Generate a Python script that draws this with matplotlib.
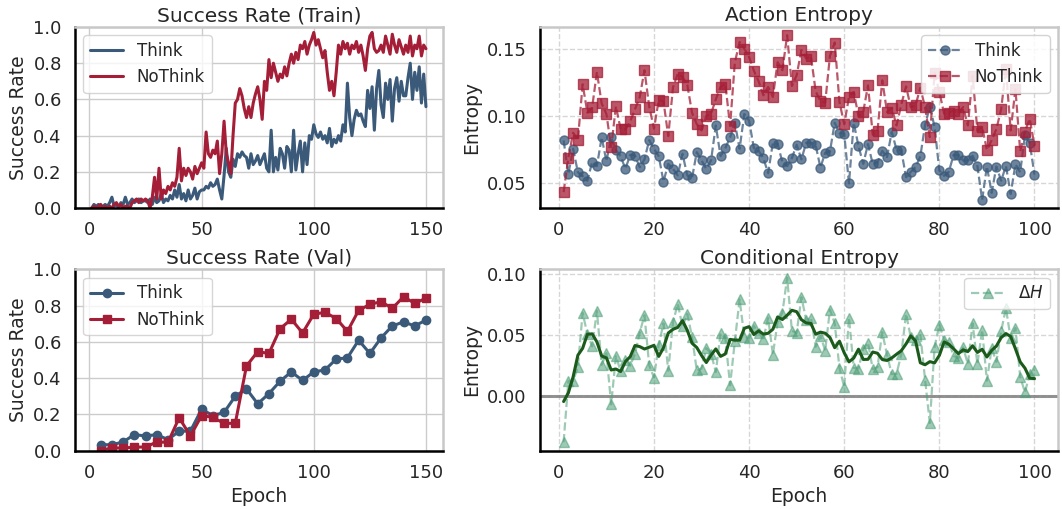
import matplotlib
matplotlib.use("Agg")
import matplotlib.pyplot as plt
import numpy as np
import pandas as pd
import seaborn as sns

# ---------------------------------------------------------------- data
train_epochs = np.arange(1, 151)
think_train = [
    0.00, 0.02, 0.01, 0.02, 0.00, 0.01, 0.02, 0.01, 0.03, 0.06,
    0.01, 0.02, 0.00, 0.03, 0.02, 0.06, 0.02, 0.03, 0.05, 0.03,
    0.04, 0.05, 0.03, 0.04, 0.04, 0.03, 0.05, 0.02, 0.06, 0.03,
    0.04, 0.08, 0.03, 0.05, 0.04, 0.07, 0.05, 0.10, 0.06, 0.13,
    0.05, 0.08, 0.04, 0.10, 0.05, 0.07, 0.11, 0.05, 0.09, 0.10,
    0.10, 0.12, 0.11, 0.14, 0.12, 0.13, 0.16, 0.10, 0.05, 0.18,
    0.33, 0.20, 0.17, 0.27, 0.23, 0.30, 0.28, 0.31, 0.29, 0.28,
    0.22, 0.30, 0.24, 0.26, 0.29, 0.24, 0.27, 0.30, 0.22, 0.20,
    0.43, 0.20, 0.28, 0.21, 0.33, 0.30, 0.22, 0.34, 0.32, 0.20,
    0.43, 0.21, 0.30, 0.37, 0.20, 0.36, 0.24, 0.40, 0.38, 0.46,
    0.41, 0.39, 0.42, 0.38, 0.40, 0.36, 0.44, 0.34, 0.38, 0.36,
    0.40, 0.37, 0.46, 0.42, 0.69, 0.50, 0.40, 0.49, 0.54, 0.51,
    0.52, 0.48, 0.45, 0.65, 0.55, 0.67, 0.43, 0.66, 0.76, 0.57,
    0.50, 0.69, 0.60, 0.71, 0.48, 0.66, 0.72, 0.59, 0.70, 0.62,
    0.62, 0.72, 0.80, 0.60, 0.75, 0.65, 0.78, 0.58, 0.74, 0.56,
]
nothink_train = [
    0.00, 0.01, 0.00, 0.01, 0.02, 0.00, 0.01, 0.00, 0.01, 0.00,
    0.02, 0.03, 0.01, 0.02, 0.00, 0.01, 0.01, 0.00, 0.03, 0.04,
    0.05, 0.03, 0.05, 0.04, 0.05, 0.04, 0.00, 0.06, 0.17, 0.05,
    0.22, 0.05, 0.10, 0.08, 0.12, 0.10, 0.14, 0.12, 0.17, 0.33,
    0.15, 0.22, 0.18, 0.22, 0.20, 0.16, 0.23, 0.19, 0.22, 0.25,
    0.22, 0.42, 0.30, 0.28, 0.32, 0.30, 0.37, 0.19, 0.30, 0.48,
    0.30, 0.25, 0.19, 0.40, 0.58, 0.60, 0.66, 0.62, 0.55, 0.50,
    0.56, 0.50, 0.58, 0.63, 0.67, 0.60, 0.49, 0.70, 0.65, 0.82,
    0.72, 0.80, 0.75, 0.70, 0.74, 0.72, 0.78, 0.73, 0.80, 0.85,
    0.80, 0.86, 0.82, 0.90, 0.88, 0.92, 0.85, 0.90, 0.93, 0.97,
    0.90, 0.93, 0.88, 0.83, 0.87, 0.75, 0.65, 0.70, 0.62, 0.75,
    0.90, 0.85, 0.92, 0.88, 0.91, 0.85, 0.90, 0.88, 0.92, 0.86,
    0.90, 0.84, 0.76, 0.88, 0.95, 0.97, 0.88, 0.86, 0.87, 0.90,
    0.86, 0.95, 0.90, 0.85, 0.96, 0.90, 0.86, 0.93, 0.89, 0.85,
    0.90, 0.86, 0.95, 0.84, 0.90, 0.88, 0.95, 0.84, 0.90, 0.88,
]

val_epochs = np.arange(5, 151, 5)
think_val = [0.032, 0.032, 0.047, 0.088, 0.080, 0.088, 0.060, 0.107, 0.107, 0.228,
             0.193, 0.210, 0.300, 0.340, 0.258, 0.314, 0.383, 0.434, 0.387, 0.434,
             0.445, 0.505, 0.512, 0.609, 0.536, 0.622, 0.688, 0.710, 0.688, 0.720]
nothink_val = [0.000, 0.015, 0.013, 0.019, 0.019, 0.047, 0.045, 0.181, 0.080, 0.193,
               0.183, 0.150, 0.150, 0.467, 0.546, 0.536, 0.673, 0.725, 0.649, 0.753,
               0.763, 0.729, 0.658, 0.774, 0.807, 0.822, 0.785, 0.849, 0.813, 0.841]

ent_epochs = np.arange(1, 101)
think_ent = [
    0.0819, 0.0570, 0.0757, 0.0583, 0.0554, 0.0519, 0.0658, 0.0628, 0.0841, 0.0665,
    0.0841, 0.0747, 0.0700, 0.0608, 0.0712, 0.0707, 0.0620, 0.0678, 0.0821, 0.0757,
    0.0702, 0.0514, 0.0645, 0.0608, 0.0559, 0.0720, 0.0559, 0.0539, 0.0732, 0.0670,
    0.0608, 0.0670, 0.0930, 0.0702, 0.0762, 0.0841, 0.0950, 0.0757, 0.1015, 0.0965,
    0.0762, 0.0742, 0.0688, 0.0576, 0.0802, 0.0792, 0.0658, 0.0628, 0.0688, 0.0787,
    0.0678, 0.0802, 0.0802, 0.0782, 0.0618, 0.0727, 0.0737, 0.0950, 0.0876, 0.0869,
    0.0500, 0.0950, 0.0777, 0.0645, 0.0792, 0.0643, 0.0655, 0.0742, 0.0695, 0.0883,
    0.0750, 0.0745, 0.0546, 0.0585, 0.0622, 0.0700, 0.0933, 0.1070, 0.0920, 0.0596,
    0.0556, 0.0587, 0.0712, 0.0710, 0.0670, 0.0670, 0.0705, 0.0630, 0.0378, 0.0625,
    0.0430, 0.0625, 0.0520, 0.0630, 0.0422, 0.0642, 0.0583, 0.0858, 0.0800, 0.0566,
]
nothink_ent = [
    0.0435, 0.0690, 0.0876, 0.0821, 0.1236, 0.1025, 0.1064, 0.1327, 0.1094, 0.1015,
    0.0769, 0.1072, 0.0901, 0.0901, 0.0960, 0.1050, 0.1139, 0.1340, 0.1070, 0.0906,
    0.1119, 0.1110, 0.0851, 0.1213, 0.1315, 0.1290, 0.1233, 0.1025, 0.0940, 0.0893,
    0.1000, 0.1017, 0.1124, 0.1216, 0.1240, 0.0926, 0.1397, 0.1550, 0.1500, 0.1439,
    0.1337, 0.1258, 0.1154, 0.1216, 0.1141, 0.1400, 0.1340, 0.1600, 0.1223, 0.1303,
    0.1489, 0.1427, 0.1444, 0.1184, 0.1110, 0.1099, 0.1446, 0.1546, 0.1104, 0.0940,
    0.1141, 0.1179, 0.1000, 0.1030, 0.1228, 0.0861, 0.0890, 0.1265, 0.1030, 0.1060,
    0.0930, 0.1085, 0.1220, 0.1065, 0.1080, 0.1210, 0.1065, 0.0844, 0.1320, 0.1180,
    0.1017, 0.1025, 0.1040, 0.1017, 0.1067, 0.0930, 0.1300, 0.0890, 0.0920, 0.0748,
    0.0820, 0.0903, 0.1052, 0.1350, 0.0893, 0.1200, 0.0738, 0.0885, 0.0980, 0.0780,
]

# ---------------------------------------------------------------- style
THINK = "#3b5a7a"
NOTHINK = "#a51e37"
GREEN = "#4f9f78"
DARKGREEN = "#1b5a1b"

sns.set_theme(style="whitegrid")
plt.rcParams.update({
    "font.family": ["DejaVu Sans"],
    "axes.titlesize": 14.5,
    "axes.labelsize": 13.5,
    "xtick.labelsize": 13,
    "ytick.labelsize": 13,
    "legend.fontsize": 12,
})

W, H = 1062, 509
fig, axs = plt.subplots(2, 2, figsize=(W / 100, H / 100), dpi=100,
                        gridspec_kw=dict(width_ratios=[367.7, 518]))
fig.subplots_adjust(left=75 / W, right=1058 / W, top=1 - 27 / H,
                    bottom=1 - 450.5 / H, wspace=0.22, hspace=0.339)


def style_spines(ax):
    for s in ("left", "bottom"):
        ax.spines[s].set_color("black")
        ax.spines[s].set_linewidth(1.8)
    for s in ("top", "right"):
        ax.spines[s].set_color("#c8c8c8")
        ax.spines[s].set_linewidth(1.8)


# --- success rate (train)
ax = axs[0, 0]
ax.plot(train_epochs, think_train, color=THINK, lw=2.2, label="Think")
ax.plot(train_epochs, nothink_train, color=NOTHINK, lw=2.2, label="NoThink")
ax.set_title("Success Rate (Train)", pad=4)
ax.set_ylabel("Success Rate")
ax.set_ylim(0, 1.0)
ax.set_xticks([0, 50, 100, 150])
ax.legend(loc="upper left")
style_spines(ax)
train_xlim = ax.get_xlim()

# --- success rate (val)
ax = axs[1, 0]
ax.plot(val_epochs, think_val, "-o", color=THINK, lw=2.2, ms=6, label="Think")
ax.plot(val_epochs, nothink_val, "-s", color=NOTHINK, lw=2.2, ms=6, label="NoThink")
ax.set_title("Success Rate (Val)", pad=4)
ax.set_ylabel("Success Rate")
ax.set_xlabel("Epoch")
ax.set_ylim(0, 1.0)
ax.set_xlim(train_xlim)
ax.set_xticks([0, 50, 100, 150])
ax.legend(loc="upper left")
style_spines(ax)

# --- action entropy
ax = axs[0, 1]
ax.plot(ent_epochs, think_ent, "--o", color=THINK, lw=1.6, ms=6.5, alpha=0.75, label="Think")
ax.plot(ent_epochs, nothink_ent, "--s", color=NOTHINK, lw=1.6, ms=6.5, alpha=0.75, label="NoThink")
ax.set_title("Action Entropy", pad=4)
ax.set_ylabel("Entropy")
ax.set_xticks([0, 20, 40, 60, 80, 100])
ax.grid(True, linestyle="--", alpha=0.8)
ax.legend(loc="upper right", framealpha=0.85)
style_spines(ax)

# --- conditional entropy (difference NoThink - Think)
delta = pd.Series(nothink_ent) - pd.Series(think_ent)
delta_smooth = delta.rolling(5, center=True, min_periods=1).mean()
ax = axs[1, 1]
ax.axhline(0, color="gray", lw=2.2, alpha=0.85, zorder=1)
ax.plot(ent_epochs, delta, "--^", color=GREEN, lw=1.6, ms=7, alpha=0.55, label=r"$\Delta H$")
ax.plot(ent_epochs, delta_smooth, color=DARKGREEN, lw=2.2)
ax.set_title("Conditional Entropy", pad=4)
ax.set_ylabel("Entropy")
ax.set_xlabel("Epoch")
ax.set_xticks([0, 20, 40, 60, 80, 100])
ax.set_yticks([0.0, 0.05, 0.10])
ax.grid(True, linestyle="--", alpha=0.8)
ax.legend(loc="upper right")
style_spines(ax)

fig.savefig("out.png", dpi=100)
